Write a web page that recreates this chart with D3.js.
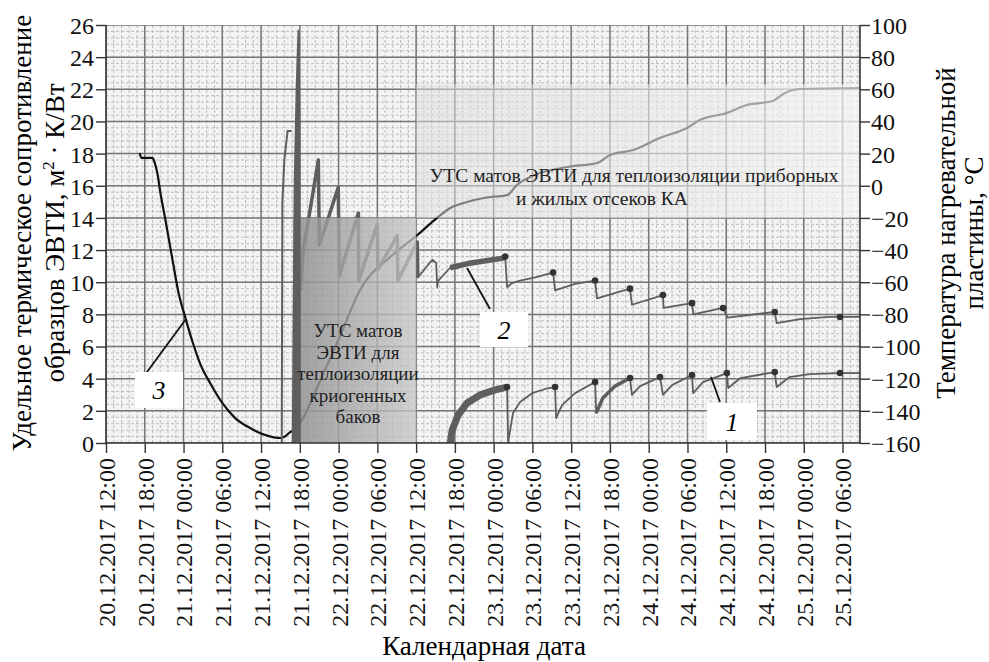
<!DOCTYPE html>
<html>
<head>
<meta charset="utf-8">
<script src="https://cdn.jsdelivr.net/npm/d3@7"></script>
<style>
  body { margin: 0; background: #fff; }
  svg { display: block; }
  svg text { font-family: "Liberation Serif", "Tinos", "Times New Roman", "DejaVu Serif", serif; }
</style>
</head>
<body>
<svg id="chart" width="989" height="662"></svg>
<script>
// time is hours after 20.12.2017 12:00
var startTime = new Date(2017, 11, 20, 12, 0);
var endHours = 116.7;

var leftTicks = [0, 2, 4, 6, 8, 10, 12, 14, 16, 18, 20, 22, 24, 26];
var rightTicks = [-160, -140, -120, -100, -80, -60, -40, -20, 0, 20, 40, 60, 80, 100];

// curve 3: heating plate temperature, deg C
var tempSeries = [
  [5.2, 20.4], [5.5, 17.3], [7.2, 17.3], [7.5, 14.8], [8.0, 6.7], [8.4, -3.9], [9.2, -21.3],
  [10.3, -46.2], [11.2, -66.1], [12.3, -82.3], [13.4, -97.2], [14.6, -110.9], [16.2, -123.3],
  [18.0, -135.1], [20.0, -144.5], [22.3, -150.7], [24.7, -155.1], [27.0, -156.9], [27.8, -155.7],
  [28.5, -153.2], [29.3, -152.0], [30.5, -144.5], [33.2, -120.8], [36.3, -92.8], [39.3, -64.9],
  [44.0, -44.3], [48.2, -30.6], [51.2, -20.1], [53.3, -13.8], [55.9, -10.1], [59.5, -7.0],
  [62.1, -5.8], [63.6, 0.5], [65.6, 5.4], [71.4, 11.7], [76.0, 14.2], [78.0, 19.1], [81.6, 22.2],
  [85.7, 29.7], [89.9, 35.9], [91.9, 40.9], [96.1, 45.3], [99.2, 50.2], [103.2, 52.7],
  [104.8, 57.1], [107.4, 60.2], [116.7, 60.8]
];

// curve 2: thermal resistance, m2*K/W
var res2Start = [[27.2, 0], [27.3, 15.0], [27.6, 17.6], [28.1, 19.4], [28.7, 19.4]];
var res2Spike = [[28.9, 0], [29.2, 16], [29.5, 22], [29.8, 25.7], [29.95, 20], [30.0, 0]];
var res2Series = [
  [30.1, 9.5], [30.54, 12.0], [31.8, 15.0], [32.86, 17.6], [33.01, 12.3], [35.95, 15.9],
  [36.11, 10.4], [39.06, 14.3], [39.12, 10.1], [41.98, 13.6], [42.06, 10.8], [45.08, 12.9],
  [45.16, 10.1], [48.18, 12.5], [48.26, 10.3], [50.5, 11.4], [51.1, 11.2], [51.26, 9.7],
  [51.42, 10.1], [53.27, 10.9], [56.5, 11.2], [61.47, 11.5], [61.78, 11.6], [62.09, 9.7],
  [62.86, 9.95], [64.1, 10.1], [66.42, 10.3], [69.2, 10.6], [69.5, 9.5], [72.6, 9.9],
  [75.7, 10.1], [76.0, 9.0], [81.1, 9.6], [81.4, 8.6], [86.2, 9.2], [86.3, 8.4], [90.7, 8.7],
  [90.9, 8.0], [95.5, 8.4], [96.2, 7.8], [103.5, 8.15], [103.8, 7.46], [107.4, 7.7],
  [112.0, 7.84], [113.6, 7.84], [116.7, 7.84]
];
var res2Peaks = [61.78, 69.2, 75.7, 81.1, 86.2, 90.7, 95.5, 103.5, 113.6];

// curve 1: thermal resistance, m2*K/W
var res1Series = [
  [53.27, 0], [53.58, 0.8], [54.5, 1.74], [55.9, 2.49], [57.9, 2.99], [60.24, 3.3], [62.09, 3.48],
  [62.24, 0], [62.55, 0.8], [63.0, 1.87], [64.1, 2.55], [65.95, 3.1], [67.96, 3.36], [69.5, 3.48],
  [69.66, 1.55], [70.59, 2.36], [72.6, 3.1], [75.7, 3.79], [75.86, 1.87], [76.9, 2.8],
  [78.8, 3.54], [81.1, 4.04], [81.4, 2.99], [82.65, 3.54], [85.75, 4.1], [86.2, 2.99],
  [87.6, 3.6], [90.7, 4.23], [90.86, 3.1], [92.4, 3.79], [96.1, 4.35], [96.3, 3.42],
  [98.2, 4.04], [103.5, 4.41], [103.8, 3.48], [105.8, 4.1], [108.9, 4.29], [113.6, 4.35],
  [116.7, 4.35]
];
var res1Peaks = [62.09, 69.5, 75.7, 81.1, 85.75, 90.7, 96.1, 103.5, 113.6];

// time spans where the record is a dense band
var res1Bands = [[53.2, 62.1], [75.8, 81.2]];
var res2Bands = [[30.0, 48.3], [53.2, 61.8]];

// zones: [from hour, to hour, low, high] in resistance units
var cryoZone = [29.0, 48.0, 0, 14];
var cabinZone = [48.0, endHours, 14, 22.3];

(function () {
var svg = d3.select("#chart");
var pL = 106, pR = 860, pT = 25, pB = 443;
var serif = "'Liberation Serif', 'Tinos', 'Times New Roman', 'DejaVu Serif', serif";

var hours = function (h) { return d3.timeMinute.offset(startTime, Math.round(h * 60)); };

var x = d3.scaleTime().domain([startTime, hours(endHours)]).range([pL, pR]);
var yL = d3.scaleLinear().domain([0, 26]).range([pB, pT]);
var yR = d3.scaleLinear().domain([-160, 100]).range([pB, pT]);

var defs = svg.append("defs");
var g1 = defs.append("linearGradient").attr("id", "cryoFill");
g1.append("stop").attr("offset", "0%").attr("stop-color", "#8e8e8e").attr("stop-opacity", 0.85);
g1.append("stop").attr("offset", "100%").attr("stop-color", "#c6c6c6").attr("stop-opacity", 0.75);
var g2 = defs.append("linearGradient").attr("id", "cabinFill");
g2.append("stop").attr("offset", "0%").attr("stop-color", "#dcdcdc").attr("stop-opacity", 0.5);
g2.append("stop").attr("offset", "100%").attr("stop-color", "#f4f4f4").attr("stop-opacity", 0.7);
defs.append("clipPath").attr("id", "plotClip").append("rect")
  .attr("x", pL).attr("y", pT).attr("width", pR - pL).attr("height", pB - pT);

// background and grid
svg.append("rect").attr("x", pL).attr("y", pT).attr("width", pR - pL)
  .attr("height", pB - pT).attr("fill", "#f3f3f3");

var majorX = x.ticks(d3.timeHour.every(6));
var stepX = x(majorX[1]) - x(majorX[0]);
var minorX = [], minorY = [];
majorX.forEach(function (t) {
  for (var k = 0; k < 5; k++) minorX.push(x(t) + k * stepX / 5);
});
for (var v = 0; v < 26; v += 0.4) minorY.push(yL(v));

var grid = svg.append("g").attr("clip-path", "url(#plotClip)");
grid.selectAll(".mx").data(minorX).enter().append("line")
  .attr("x1", function (d) { return d; }).attr("x2", function (d) { return d; })
  .attr("y1", pT).attr("y2", pB)
  .attr("stroke", "#bdbdbd").attr("stroke-width", 1).attr("stroke-dasharray", "3,2");
grid.selectAll(".my").data(minorY).enter().append("line")
  .attr("y1", function (d) { return d; }).attr("y2", function (d) { return d; })
  .attr("x1", pL).attr("x2", pR)
  .attr("stroke", "#bdbdbd").attr("stroke-width", 1).attr("stroke-dasharray", "3,2");
grid.selectAll(".gx").data(majorX).enter().append("line")
  .attr("x1", function (d) { return x(d); }).attr("x2", function (d) { return x(d); })
  .attr("y1", pT).attr("y2", pB).attr("stroke", "#767676").attr("stroke-width", 1.5);
grid.selectAll(".gy").data(leftTicks).enter().append("line")
  .attr("y1", function (d) { return yL(d); }).attr("y2", function (d) { return yL(d); })
  .attr("x1", pL).attr("x2", pR).attr("stroke", "#767676").attr("stroke-width", 1.5);

var plot = svg.append("g").attr("clip-path", "url(#plotClip)");

var lineL = d3.line().x(function (d) { return x(hours(d[0])); }).y(function (d) { return yL(d[1]); });
var lineR = d3.line().x(function (d) { return x(hours(d[0])); }).y(function (d) { return yR(d[1]); })
  .curve(d3.curveMonotoneX);

// curve 3
plot.append("path").datum(tempSeries).attr("d", lineR)
  .attr("fill", "none").attr("stroke", "#111").attr("stroke-width", 2.2);

function drawRes(series, bands, width, bandWidth) {
  plot.append("path").datum(series).attr("d", lineL)
    .attr("fill", "none").attr("stroke", "#5e5e5e").attr("stroke-width", width)
    .attr("stroke-linejoin", "round");
  bands.forEach(function (b, i) {
    var pts = series.filter(function (d) { return d[0] >= b[0] && d[0] <= b[1]; });
    plot.append("path").datum(pts).attr("d", lineL)
      .attr("fill", "none").attr("stroke", "#5e5e5e").attr("stroke-width", bandWidth[i])
      .attr("stroke-linejoin", "round");
  });
}
drawRes(res2Start, [], 2, []);
drawRes(res2Series, res2Bands, 1.8, [3.5, 5.5]);
drawRes(res1Series, res1Bands, 1.8, [7, 3.5]);

// zones
plot.append("rect")
  .attr("x", x(hours(cryoZone[0]))).attr("width", x(hours(cryoZone[1])) - x(hours(cryoZone[0])))
  .attr("y", yL(cryoZone[3])).attr("height", yL(cryoZone[2]) - yL(cryoZone[3]))
  .attr("fill", "url(#cryoFill)");
plot.append("rect")
  .attr("x", x(hours(cabinZone[0]))).attr("width", x(hours(cabinZone[1])) - x(hours(cabinZone[0])))
  .attr("y", yL(cabinZone[3])).attr("height", yL(cabinZone[2]) - yL(cabinZone[3]))
  .attr("fill", "url(#cabinFill)");

// spike is above the cryo zone
plot.append("path").datum(res2Spike).attr("d", lineL)
  .attr("fill", "#5e5e5e").attr("stroke", "#5e5e5e").attr("stroke-width", 2);

// peak dots
function dots(series, peaks) {
  var pts = series.filter(function (d) {
    return peaks.some(function (p) { return Math.abs(p - d[0]) < 0.05; });
  });
  plot.selectAll(null).data(pts).enter().append("circle")
    .attr("cx", function (d) { return x(hours(d[0])); })
    .attr("cy", function (d) { return yL(d[1]); })
    .attr("r", 3.3).attr("fill", "#333");
}
dots(res2Series, res2Peaks);
dots(res1Series, res1Peaks);

// zone captions
var cryoText = ["УТС матов", "ЭВТИ для", "теплоизоляции", "криогенных", "баков"];
svg.append("g").selectAll("text").data(cryoText).enter().append("text")
  .attr("x", 358).attr("y", function (d, i) { return 337 + i * 21.5; })
  .attr("text-anchor", "middle").attr("font-size", 19).attr("fill", "#222")
  .text(function (d) { return d; });
var cabinText = [
  { t: "УТС матов ЭВТИ для теплоизоляции приборных", cx: 634, y: 182 },
  { t: "и жилых отсеков КА", cx: 602, y: 205 }
];
svg.append("g").selectAll("text").data(cabinText).enter().append("text")
  .attr("x", function (d) { return d.cx; }).attr("y", function (d) { return d.y; })
  .attr("text-anchor", "middle").attr("font-size", 19.5).attr("fill", "#222")
  .text(function (d) { return d.t; });

// callouts
var callouts = [
  { name: "3", from: [147, 372], to: [186, 319], box: [135, 372, 48, 36] },
  { name: "2", from: [490, 309], to: [467, 268], box: [480, 312, 48, 35] },
  { name: "1", from: [720, 402], to: [711, 377], box: [707, 403, 50, 37] }
];
callouts.forEach(function (c) {
  svg.append("line").attr("x1", c.from[0]).attr("y1", c.from[1]).attr("x2", c.to[0]).attr("y2", c.to[1])
    .attr("stroke", "#111").attr("stroke-width", 1.8);
  svg.append("rect").attr("x", c.box[0]).attr("y", c.box[1]).attr("width", c.box[2]).attr("height", c.box[3])
    .attr("fill", "#fff");
  svg.append("text").attr("x", c.box[0] + c.box[2] / 2).attr("y", c.box[1] + c.box[3] / 2 + 9)
    .attr("text-anchor", "middle").attr("font-size", 26).attr("font-style", "italic")
    .text(c.name);
});

// axes
var axisL = d3.axisLeft(yL).tickValues(leftTicks).tickSize(10).tickPadding(2);
var axisR = d3.axisRight(yR).tickValues(rightTicks).tickSize(10).tickPadding(1);
var axisB = d3.axisBottom(x).ticks(d3.timeHour.every(6)).tickSize(10)
  .tickFormat(d3.timeFormat("%d.%m.%Y %H:%M"));

var gl = svg.append("g").attr("transform", "translate(" + pL + ",0)").call(axisL);
var gr = svg.append("g").attr("transform", "translate(" + pR + ",0)").call(axisR);
var gb = svg.append("g").attr("transform", "translate(0," + pB + ")").call(axisB);
[gl, gr, gb].forEach(function (g) {
  g.attr("font-family", null);
  g.select(".domain").attr("stroke", "#333").attr("stroke-width", 1.6);
  g.selectAll(".tick line").attr("stroke", "#333").attr("stroke-width", 1.4);
  g.selectAll("text").style("font-family", serif).attr("font-size", 24).attr("fill", "#111");
});
gl.select(".domain").attr("d", "M0," + pT + "V" + pB);
gr.select(".domain").attr("d", "M0," + pT + "V" + pB);
gb.select(".domain").attr("d", "M" + pL + ",0H" + pR);
gl.selectAll(".tick text").attr("dy", "0.35em");
gr.selectAll(".tick text").attr("dy", "0.35em");
gb.selectAll(".tick text")
  .attr("transform", "rotate(-90)").attr("text-anchor", "end")
  .attr("x", -15).attr("y", 0).attr("dy", "0.35em");

// axis titles
svg.append("text").attr("x", 484).attr("y", 655).attr("text-anchor", "middle")
  .attr("font-size", 27).text("Календарная дата");
var leftTitle = svg.append("text").attr("transform", "translate(31,233) rotate(-90)")
  .attr("text-anchor", "middle").attr("font-size", 27);
leftTitle.append("tspan").attr("x", 0).attr("dy", 0).text("Удельное термическое сопротивление");
var lt2 = leftTitle.append("tspan").attr("x", 0).attr("dy", 33).text("образцов ЭВТИ, м");
lt2.append("tspan").attr("font-size", 17).attr("dy", -10).text("2");
leftTitle.append("tspan").attr("dy", 10).text(" · К/Вт");

var rightTitle = svg.append("text").attr("transform", "translate(955,233) rotate(-90)")
  .attr("text-anchor", "middle").attr("font-size", 27);
rightTitle.append("tspan").attr("x", 0).attr("dy", 0).text("Температура нагревательной");
rightTitle.append("tspan").attr("x", 0).attr("dy", 28).text("пластины, °С");
})();
</script>
</body>
</html>
